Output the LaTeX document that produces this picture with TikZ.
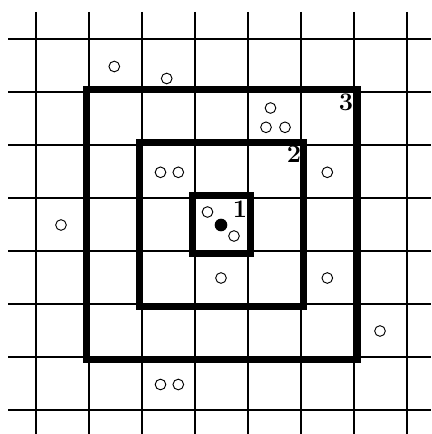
\documentclass[tikz,border=0pt]{standalone}
\begin{document}
\begin{tikzpicture}[x=0.75pt,y=-0.75pt,
  gridline/.style={line width=1.6pt},
  ring/.style={line width=4.8pt, line join=miter},
  emptydot/.style={circle, draw, line width=0.7pt, minimum size=8pt, inner sep=0pt},
  fulldot/.style={circle, fill, minimum size=9.5pt, inner sep=0pt},
  lab/.style={font=\bfseries\fontsize{19}{22}\selectfont, inner sep=0pt}]
\useasboundingbox (0,0) rectangle (431,434);
% grid
\foreach \i in {0,...,7}{
  \draw[gridline] ({36+53*\i},12) -- ({36+53*\i},434);
  \draw[gridline] (8,{39+53*\i}) -- (431,{39+53*\i});
}
% squares
\draw[ring] (192.5,195.5) rectangle (250.5,253.5);
\draw[ring] (139.5,142.5) rectangle (303.5,306.5);
\draw[ring] (86.5,89.5) rectangle (357.5,359.5);
% labels
\node[lab] (l1) at (240,209) {1};
\node[lab] (l2) at (294,154) {2};
\node[lab] (l3) at (346,102) {3};
% points
\node[fulldot] (c) at (221,225) {};
\node[emptydot] (p1) at (114.3,66.5) {};
\node[emptydot] (p2) at (166.7,78.5) {};
\node[emptydot] (p3) at (270.5,108) {};
\node[emptydot] (p4) at (266,127.3) {};
\node[emptydot] (p5) at (285,127.3) {};
\node[emptydot] (p6) at (160.5,172.3) {};
\node[emptydot] (p7) at (178.3,172.3) {};
\node[emptydot] (p8) at (327.3,172.3) {};
\node[emptydot] (p9) at (61,225) {};
\node[emptydot] (p10) at (207.5,212) {};
\node[emptydot] (p11) at (234,236) {};
\node[emptydot] (p12) at (221,278) {};
\node[emptydot] (p13) at (327.3,278) {};
\node[emptydot] (p14) at (380,331) {};
\node[emptydot] (p15) at (160.5,384.5) {};
\node[emptydot] (p16) at (178.3,384.5) {};
\end{tikzpicture}
\end{document}
